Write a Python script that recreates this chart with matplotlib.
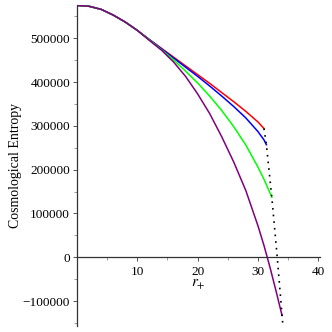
import matplotlib
matplotlib.use("Agg")
import matplotlib.pyplot as plt
from matplotlib.ticker import MultipleLocator, FixedLocator

plt.rcParams['font.family'] = ['Liberation Serif', 'DejaVu Serif']
plt.rcParams['mathtext.fontset'] = 'stix'

############# data #############
r_red = [0, 2, 4, 6, 8, 10, 12, 14, 16, 18, 20, 22, 24, 26, 28, 30, 31.0]
s_red = [575000, 573000, 566000, 553000, 537000, 518000, 497000, 477000, 457000,
         437000, 417000, 397000, 376000, 355000, 333000, 309000, 294000]

r_blue = [0, 2, 4, 6, 8, 10, 12, 14, 16, 18, 20, 22, 24, 26, 28, 30, 31, 31.4]
s_blue = [575000, 573000, 566000, 553000, 537000, 518000, 497000, 476000, 455000,
          434000, 413000, 391000, 368000, 344000, 318000, 287000, 268000, 257000]

r_green = [0, 2, 4, 6, 8, 10, 12, 14, 16, 18, 20, 22, 24, 26, 28, 30, 31, 32, 32.3]
s_green = [575000, 573000, 566000, 553000, 537000, 518000, 496000, 474000, 451000,
           425000, 398000, 368000, 335000, 298000, 256000, 206000, 178000, 147000, 137000]

r_purple = [0, 2, 4, 6, 8, 10, 12, 14, 16, 18, 20, 22, 24, 26, 28, 30, 31, 32, 33, 34]
s_purple = [575000, 573000, 566000, 553000, 537000, 518000, 495000, 473000, 446000,
            413000, 373000, 328000, 275000, 217000, 152000, 72000, 27000, -23000,
            -77000, -133000]

# dotted line through the end points
r_end = [31.0, 31.4, 32.3, 33.2, 34.0, 34.15]
s_end = [294000, 257000, 137000, 0, -133000, -157000]

x_ticks = [10, 20, 30, 40]
y_ticks = [-100000, 0, 100000, 200000, 300000, 400000, 500000]
y_labels = ['\u2212100000', '0', '100000', '200000', '300000', '400000', '500000']

############# plot #############
fig = plt.figure(figsize=(3.32, 3.32), dpi=100)
ax = fig.add_axes([0.232, 0.018, 0.732, 0.967])

ax.plot(r_red, s_red, color='#ff0000', lw=1.1)
ax.plot(r_blue, s_blue, color='#0000ff', lw=1.1)
ax.plot(r_green, s_green, color='#00ff00', lw=1.1)
ax.plot(r_purple, s_purple, color='#800080', lw=1.1)
ax.plot(r_end, s_end, color='black', lw=1.2, linestyle=(0, (1, 3)))

ax.set_xlim(0, 40.3)
ax.set_ylim(-157000, 576000)

##### Maple style axes #####
ax.spines['top'].set_visible(False)
ax.spines['right'].set_visible(False)
ax.spines['bottom'].set_position(('data', 0))
ax.spines['left'].set_position(('data', 0))
for sp in ['bottom', 'left']:
    ax.spines[sp].set_color('#333333')
    ax.spines[sp].set_linewidth(0.9)

ax.xaxis.set_major_locator(FixedLocator(x_ticks))
ax.xaxis.set_minor_locator(MultipleLocator(5))
ax.set_yticks(y_ticks)
ax.set_yticklabels(y_labels)
ax.yaxis.set_minor_locator(MultipleLocator(50000))

ax.tick_params(axis='both', which='major', direction='out', length=3, width=0.7,
               color='#555555', labelsize=9.5, pad=2)
ax.tick_params(axis='both', which='minor', direction='out', length=2, width=0.6,
               color='#888888')
ax.tick_params(axis='x', which='major', pad=3)

ax.set_ylabel('Cosmological Entropy', fontsize=10)
ax.yaxis.set_label_coords(-0.225, 0.5)
ax.set_xlabel('$r_{+}$', fontsize=11)
ax.xaxis.set_label_coords(0.5, 0.15)

plt.savefig('out.png', dpi=100)
